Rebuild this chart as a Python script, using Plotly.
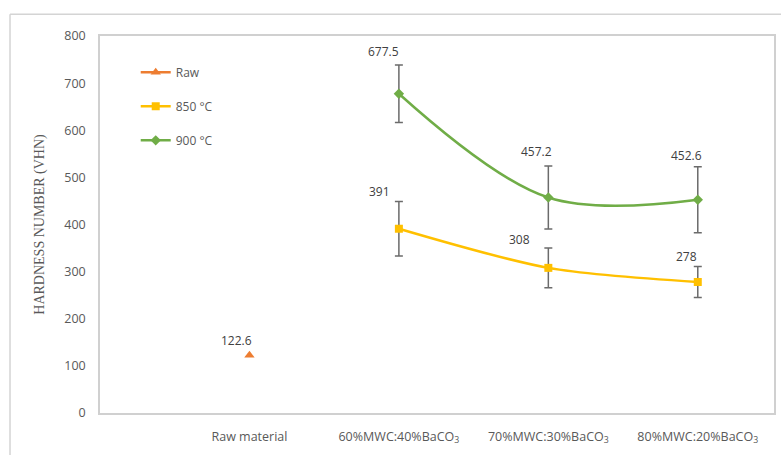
import plotly.graph_objects as go

categories = ["Raw material",
              "60%MWC:40%BaCO<sub>3</sub>",
              "70%MWC:30%BaCO<sub>3</sub>",
              "80%MWC:20%BaCO<sub>3</sub>"]
cat_pos = [1, 2, 3, 4]

raw_values = [122.6]
raw_pos = [1]

t850_values = [391, 308, 278]
t850_errors = [58, 42, 33]
t850_pos = [2, 3, 4]

t900_values = [677.5, 457.2, 452.6]
t900_errors = [61, 67, 70]
t900_pos = [2, 3, 4]

label_offsets_raw = [(-13, 15)]
label_offsets_850 = [(-19, 37), (-29, 28), (-11, 25)]
label_offsets_900 = [(-15, 42), (-12, 46), (-11, 44)]

err_color = "#6b6b6b"
fig = go.Figure()

fig.add_trace(go.Scatter(
    x=raw_pos, y=raw_values, name="Raw", mode="lines+markers",
    line=dict(color="#ED7D31", width=2.5),
    marker=dict(symbol="triangle-up", size=9, color="#ED7D31"),
    legendgroup="a"))

fig.add_trace(go.Scatter(
    x=t850_pos, y=t850_values, name="850 °C", mode="lines+markers",
    line=dict(color="#FFC000", width=2.5, shape="spline", smoothing=0.8),
    marker=dict(symbol="square", size=8, color="#FFC000"),
    error_y=dict(type="data", array=t850_errors, color=err_color, thickness=1.5, width=4),
    legendgroup="b"))

fig.add_trace(go.Scatter(
    x=t900_pos, y=t900_values, name="900 °C", mode="lines+markers",
    line=dict(color="#70AD47", width=2.5, shape="spline", smoothing=1.0),
    marker=dict(symbol="diamond", size=8, color="#70AD47"),
    error_y=dict(type="data", array=t900_errors, color=err_color, thickness=1.5, width=4),
    legendgroup="c"))

annotations = []
for pos, vals, offs in [(raw_pos, raw_values, label_offsets_raw),
                        (t850_pos, t850_values, label_offsets_850),
                        (t900_pos, t900_values, label_offsets_900)]:
    for x, v, (dx, dy) in zip(pos, vals, offs):
        annotations.append(dict(x=x, y=v, text=f"{v:g}", showarrow=False,
                                xshift=dx, yshift=dy,
                                font=dict(family="Open Sans, sans-serif", size=12, color="#404040")))

shapes = [
    dict(type="line", xref="paper", yref="paper", x0=-0.1335, x1=1.02, y0=1.058, y1=1.058,
         line=dict(color="#d4d4d4", width=1.5)),
    dict(type="line", xref="paper", yref="paper", x0=-0.1335, x1=-0.1335, y0=1.058, y1=-0.12,
         line=dict(color="#d4d4d4", width=1.5)),
]

fig.update_layout(
    width=781, height=455,
    margin=dict(l=100, r=7, t=36, b=42, autoexpand=False),
    paper_bgcolor="white", plot_bgcolor="white",
    font=dict(family="Open Sans, sans-serif", size=12, color="#595959"),
    showlegend=True,
    legend=dict(x=0.053, y=0.942, xanchor="left", yanchor="top",
                bgcolor="rgba(0,0,0,0)", tracegroupgap=15,
                font=dict(size=12, color="#595959")),
    annotations=annotations,
    shapes=shapes,
    xaxis=dict(range=[0, 4.51], tickvals=cat_pos, ticktext=categories,
               automargin=False,
               showgrid=False, zeroline=False, showline=True, mirror=True,
               linecolor="#d0d0d0", linewidth=1.5, ticks="", ticklabelstandoff=11,
               tickfont=dict(size=12.5, color="#595959")),
    yaxis=dict(range=[0, 800], dtick=100, showgrid=False, zeroline=False,
               automargin=False,
               showline=True, mirror=True, linecolor="#d0d0d0", linewidth=1.5,
               ticks="", ticklabelstandoff=10,
               tickfont=dict(size=12.5, color="#595959"),
               title=dict(text="HARDNESS NUMBER (VHN)", standoff=16,
                          font=dict(family="Liberation Serif, Times New Roman, serif",
                                    size=14, color="#595959"))),
)

fig.write_html("out.html", config={"displayModeBar": False},
               post_script="document.body.style.margin='0';")
